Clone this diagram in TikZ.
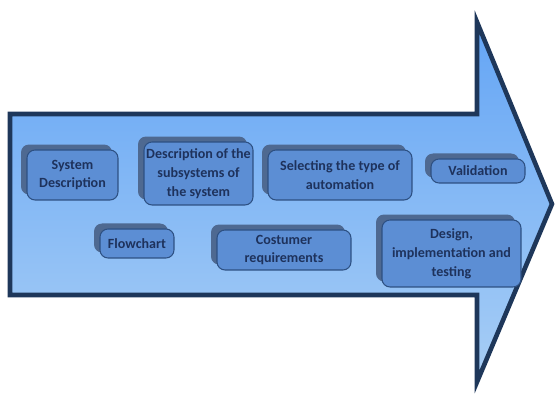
\documentclass[tikz,border=0pt]{standalone}
\usepackage{fontspec}
\setmainfont{Carlito}
\usetikzlibrary{shadows}

\definecolor{arrowtop}{RGB}{100,165,245}
\definecolor{arrowbot}{RGB}{168,206,245}
\definecolor{arrowline}{RGB}{30,55,90}
\definecolor{boxfill}{RGB}{92,142,212}
\definecolor{boxline}{RGB}{45,80,130}
\definecolor{boxshade}{RGB}{78,105,145}
\definecolor{boxtext}{RGB}{30,50,92}

\tikzset{
  stage/.style={draw=boxline, fill=boxfill, line width=0.6pt, rounded corners=0.16cm,
    align=center, inner sep=1pt, text=boxtext, font=\fontsize{8}{10.8}\selectfont\bfseries,
    drop shadow={shadow xshift=-0.12cm, shadow yshift=0.11cm, fill=boxshade, opacity=1}}
}

\begin{document}
\begin{tikzpicture}[x=0.02cm, y=-0.02cm]
  \useasboundingbox (0,0) rectangle (558,394);

  % Arrow
  \shade[top color=arrowtop, bottom color=arrowbot, draw=arrowline, line width=2.6pt]
    (10,114) -- (477,114) -- (477,22) -- (552,204) -- (477,382) -- (477,295) -- (10,295) -- cycle;

  % Top row
  \node[stage, minimum width=1.82cm, minimum height=1.0cm] (sysdesc) at (72.5,175) {System\\Description};
  \node[stage, minimum width=2.18cm, minimum height=1.26cm] (subsys) at (198.5,173.5) {Description of the\\subsystems of\\the system};
  \node[stage, minimum width=2.88cm, minimum height=1.0cm] (autom) at (340,175) {Selecting the type of\\automation};
  \node[stage, minimum width=1.88cm, minimum height=0.48cm] (valid) at (478,171) {Validation};

  % Bottom row
  \node[stage, minimum width=1.48cm, minimum height=0.58cm] (flow) at (137,243.5) {Flowchart};
  \node[stage, minimum width=2.68cm, minimum height=0.8cm] (costumer) at (284,250) {Costumer\\requirements};
  \node[stage, minimum width=2.78cm, minimum height=1.34cm] (design) at (451.5,253.5) {Design,\\implementation and\\testing};
\end{tikzpicture}
\end{document}
